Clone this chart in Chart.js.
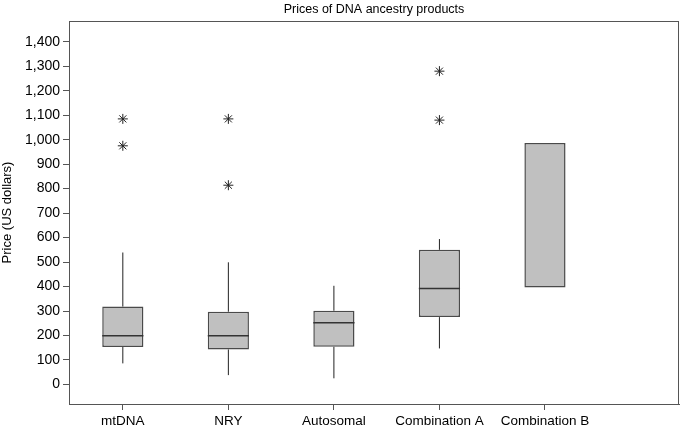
<!DOCTYPE html>
<html>
<head>
<meta charset="utf-8">
<script src="https://cdn.jsdelivr.net/npm/chart.js@4.4.1/dist/chart.umd.min.js"></script>
<style>
    html, body { margin: 0; padding: 0; background: #fff; }
    #wrap { width: 685px; height: 433px; }
</style>
</head>
<body>
<div id="wrap"><canvas id="boxChart"></canvas></div>
<script>
// Box plot data (US dollars)
const categories = ['mtDNA', 'NRY', 'Autosomal', 'Combination A', 'Combination B'];
const whiskerLow = [86, 38, 25, 147, null];
const q1 = [153, 143, 154, 275, 396];
const median = [199, 199, 252, 392, null];
const q3 = [318, 297, 301, 550, 986];
const whiskerHigh = [539, 499, 403, 594, null];
const outliers = [
    [1085, 975],
    [1085, 814],
    [],
    [1280, 1080],
    []
];
const yTicks = [0, 100, 200, 300, 400, 500, 600, 700, 800, 900, 1000, 1100, 1200, 1300, 1400];

const halfBox = 0.195;
const pos = categories.map((c, i) => i + 1);

// whiskers: one line dataset with null gaps between segments
const whiskerPts = [];
pos.forEach((x, i) => {
    if (whiskerLow[i] !== null) {
        whiskerPts.push({x: x, y: whiskerLow[i]}, {x: x, y: q1[i]}, {x: x, y: null});
    }
    if (whiskerHigh[i] !== null) {
        whiskerPts.push({x: x, y: q3[i]}, {x: x, y: whiskerHigh[i]}, {x: x, y: null});
    }
});

const medianPts = [];
pos.forEach((x, i) => {
    if (median[i] !== null) {
        medianPts.push({x: x - halfBox, y: median[i]}, {x: x + halfBox, y: median[i]}, {x: x, y: null});
    }
});

const outlierPts = [];
pos.forEach((x, i) => {
    outliers[i].forEach(v => outlierPts.push({x: x, y: v}));
});

const frame = {
    id: 'frame',
    afterDraw(chart) {
        const a = chart.chartArea;
        const ctx = chart.ctx;
        ctx.save();
        ctx.strokeStyle = '#555';
        ctx.lineWidth = 1;
        ctx.strokeRect(a.left + 0.5, a.top + 0.5, a.right - a.left - 1, a.bottom - a.top);
        ctx.fillStyle = '#000';
        ctx.font = '12.5px "Liberation Sans", Arial, sans-serif';
        ctx.textAlign = 'center';
        ctx.textBaseline = 'middle';
        ctx.fillText('Prices of DNA ancestry products', (a.left + a.right) / 2, 10);
        ctx.restore();
    }
};

new Chart(document.getElementById('boxChart').getContext('2d'), {
    type: 'bar',
    data: {
        datasets: [
            {
                type: 'line',
                label: 'median',
                data: medianPts,
                borderColor: '#333',
                borderWidth: 1.5,
                pointRadius: 0,
                spanGaps: false,
                order: 0
            },
            {
                type: 'scatter',
                label: 'outliers',
                data: outlierPts,
                pointStyle: 'star',
                pointRadius: 5,
                borderColor: '#222',
                borderWidth: 1,
                order: 1
            },
            {
                type: 'bar',
                label: 'box',
                data: pos.map((x, i) => ({x: x, y: [q1[i], q3[i]]})),
                backgroundColor: '#c0c0c0',
                borderColor: '#4a4a4a',
                borderWidth: 1.5,
                borderSkipped: false,
                barPercentage: 0.39,
                categoryPercentage: 1,
                order: 2
            },
            {
                type: 'line',
                label: 'whiskers',
                data: whiskerPts,
                borderColor: '#222',
                borderWidth: 1,
                pointRadius: 0,
                spanGaps: false,
                order: 3
            }
        ]
    },
    options: {
        responsive: true,
        maintainAspectRatio: false,
        animation: false,
        layout: { padding: { top: 21, right: 1, left: 0, bottom: 0 } },
        plugins: {
            legend: { display: false },
            tooltip: { enabled: false }
        },
        scales: {
            x: {
                type: 'linear',
                offset: false,
                min: 0.49,
                max: 6.27,
                afterBuildTicks: scale => { scale.ticks = pos.map(v => ({value: v})); },
                afterFit: scale => { scale.height = 29; },
                ticks: {
                    callback: v => categories[v - 1],
                    color: '#000',
                    padding: 3,
                    maxRotation: 0,
                    font: { family: '"Liberation Sans", Arial, sans-serif', size: 13.5 }
                },
                grid: { offset: false, drawOnChartArea: false, drawTicks: true, tickLength: 6, color: '#555' },
                border: { display: true, color: '#555' }
            },
            y: {
                min: -80,
                max: 1485,
                afterBuildTicks: scale => { scale.ticks = yTicks.map(v => ({value: v})); },
                afterFit: scale => { scale.width = 69; },
                ticks: {
                    color: '#000',
                    padding: 3,
                    font: { family: '"Liberation Sans", Arial, sans-serif', size: 14 }
                },
                grid: { drawOnChartArea: false, drawTicks: true, tickLength: 6, color: '#555' },
                border: { display: true, color: '#555' },
                title: {
                    display: true,
                    text: 'Price (US dollars)',
                    color: '#000',
                    padding: 0,
                    font: { family: '"Liberation Sans", Arial, sans-serif', size: 13 }
                }
            }
        }
    },
    plugins: [frame]
});
</script>
</body>
</html>
